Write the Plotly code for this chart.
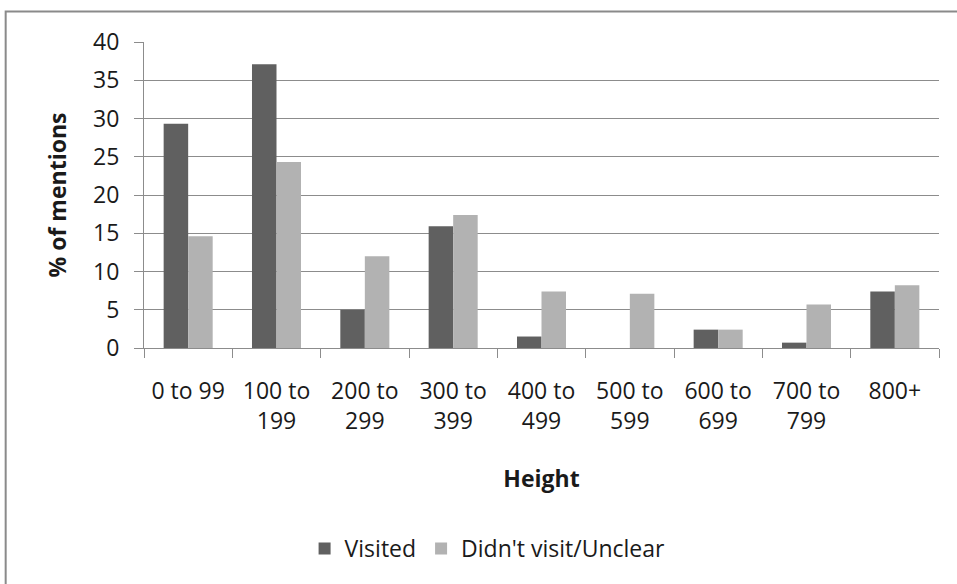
import plotly.graph_objects as go

# Building-height bands and share of mentions (%) per group
heights = ["0 to 99", "100 to 199", "200 to 299", "300 to 399", "400 to 499",
           "500 to 599", "600 to 699", "700 to 799", "800+"]
tick_labels = ["0 to 99", "100 to<br>199", "200 to<br>299", "300 to<br>399", "400 to<br>499",
               "500 to<br>599", "600 to<br>699", "700 to<br>799", "800+"]
visited = [29.3, 37.1, 5.0, 15.9, 1.5, 0.0, 2.4, 0.7, 7.4]
not_visited = [14.6, 24.3, 12.0, 17.4, 7.4, 7.1, 2.4, 5.7, 8.2]
y_ticks = [0, 5, 10, 15, 20, 25, 30, 35, 40]

FONT = "Open Sans, Lato, sans-serif"
GRID = "#8c8c8c"
FS = 23

fig = go.Figure()
fig.add_bar(x=heights, y=visited, name="Visited", marker_color="#606060",
            marker_line_width=0)
fig.add_bar(x=heights, y=not_visited, name="Didn't visit/Unclear",
            marker_color="#b2b2b2", marker_line_width=0)

fig.update_layout(
    width=957, height=584,
    margin=dict(l=144, r=18, t=42, b=236),
    paper_bgcolor="white", plot_bgcolor="white",
    font=dict(family=FONT, size=FS, color="#1a1a1a"),
    barmode="group", bargap=0.445, bargroupgap=0,
    showlegend=True,
    legend=dict(orientation="h", x=0.202, xanchor="left", y=-0.655, yanchor="middle",
                font=dict(size=FS), bgcolor="rgba(0,0,0,0)", traceorder="normal"),
    shapes=[dict(type="rect", xref="paper", yref="paper",
                 x0=-0.174, x1=1.05, y0=-0.8, y1=1.1,
                 line=dict(color="#8a8a8a", width=2), fillcolor="rgba(0,0,0,0)",
                 layer="below")],
)

fig.update_xaxes(
    type="category", categoryorder="array", categoryarray=heights,
    tickmode="array", tickvals=heights, ticktext=tick_labels,
    tickson="boundaries", ticks="outside", ticklen=9, tickcolor=GRID, tickwidth=1,
    showline=True, linecolor=GRID, linewidth=1, showgrid=False,
    tickfont=dict(size=FS), ticklabelstandoff=22,
    title=dict(text="<b>Height</b>", font=dict(size=FS), standoff=36),
    automargin=False,
)
fig.update_yaxes(
    range=[0, 40], tickmode="array", tickvals=y_ticks,
    ticks="outside", ticklen=9, tickcolor=GRID, tickwidth=1,
    showline=True, linecolor=GRID, linewidth=1,
    showgrid=True, gridcolor=GRID, gridwidth=1, zeroline=False,
    tickfont=dict(size=FS), ticklabelstandoff=10,
    title=dict(text="<b>% of mentions</b>", font=dict(size=FS), standoff=20),
    automargin=False,
)

fig.write_html("out.html")
